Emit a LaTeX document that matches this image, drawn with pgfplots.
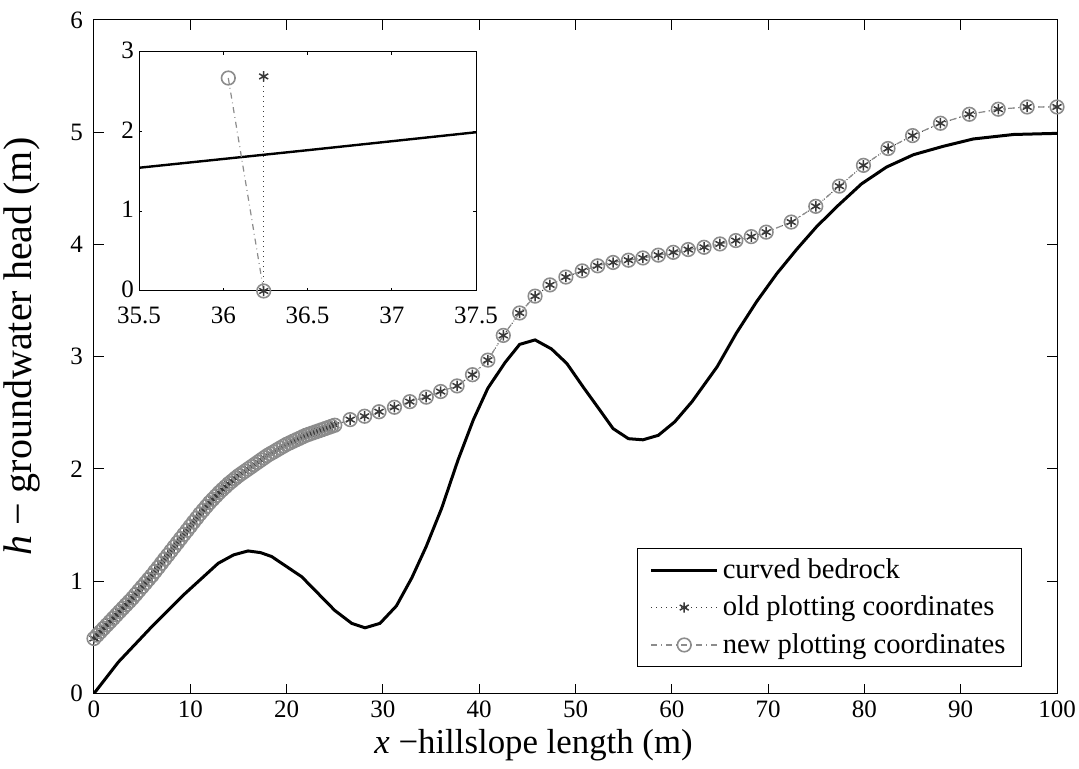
\documentclass[border=0pt]{standalone}
\usepackage{pgfplots}
\pgfplotsset{compat=1.18}
\usepackage{fontspec}
\setmainfont{Liberation Serif}
\definecolor{oldc}{HTML}{383838}
\definecolor{newc}{HTML}{8C8C8C}

\begin{document}
\begin{tikzpicture}
\begin{axis}[
  name=main,
  at={(0,0)}, anchor=south west,
  scale only axis=true,
  width=481.5pt, height=336.75pt,
  xmin=0, xmax=100, ymin=0, ymax=6,
  xtick={0,10,...,100}, ytick={0,1,...,6},
  tick align=inside,
  major tick length=4.8pt,
  every tick/.style={black, line width=0.5pt},
  axis line style={line width=0.5pt},
  /pgf/number format/assume math mode=true,
  tick label style={font=\fontsize{12.5}{15}\selectfont},
  yticklabel style={xshift=-2pt},
  xlabel={\textit{x} −hillslope length (m)},
  ylabel={\textit{h} − groundwater head (m)},
  xlabel style={font=\fontsize{17.4}{21}\selectfont, at={(axis description cs:0.5,0)}, anchor=center, xshift=-21pt, yshift=-25.75pt},
  ylabel style={font=\fontsize{20}{24}\selectfont, at={(axis description cs:-0.0748,0.515)}, anchor=center},
  legend cell align=left,
  legend style={at={(1,0)}, anchor=south east, xshift=-17.5pt, yshift=13pt,
    draw=black, line width=0.5pt, font=\fontsize{14.3}{17}\selectfont,
    row sep=3.3pt, inner xsep=6pt, inner ysep=3.3pt},
  legend image code/.code={\draw[mark repeat=2,mark phase=2] plot coordinates {(0pt,0pt) (16.5pt,0pt) (33pt,0pt)};},
]
% curved bedrock
\addplot[black, line width=1.5pt] coordinates {
(0,0) (2.53,0.28) (6.0,0.595) (9.45,0.89) (12.9,1.16) (14.5,1.235) (16.0,1.27) (17.3,1.255)
(18.45,1.22) (21.57,1.04) (25.0,0.74) (26.76,0.625) (28.14,0.585) (29.7,0.625)
(31.4,0.78) (33.0,1.03) (34.5,1.31) (36.1,1.65) (37.8,2.08) (39.4,2.44) (40.9,2.72)
(42.7,2.95) (44.2,3.11) (45.8,3.15) (47.5,3.07) (49.1,2.94) (50.8,2.73) (52.4,2.54)
(53.9,2.36) (55.5,2.27) (57.0,2.26) (58.6,2.30) (60.3,2.42) (62.1,2.60) (64.7,2.91)
(66.7,3.21) (68.8,3.49) (70.9,3.74) (73.0,3.96) (75.05,4.16) (77.3,4.35) (79.7,4.54)
(82.3,4.69) (85.1,4.80) (88.2,4.875) (91.3,4.94) (95.5,4.98) (100,4.99)
};
\addlegendentry{curved bedrock}
% old plotting coordinates
\addplot[oldc, dotted, line width=0.5pt, mark=asterisk, mark size=2.6pt,
  mark options={solid, draw=oldc, line width=0.75pt}] coordinates {
(0,0.49) (0.333,0.52) (0.667,0.55) (1,0.58) (1.333,0.61) (1.667,0.64)
(2,0.67) (2.333,0.70) (2.667,0.73) (3,0.76) (3.333,0.79) (3.667,0.82)
(4,0.85) (4.333,0.883) (4.667,0.917) (5,0.95) (5.333,0.983) (5.667,1.017)
(6,1.05) (6.333,1.087) (6.667,1.123) (7,1.16) (7.333,1.197) (7.667,1.233)
(8,1.27) (8.333,1.307) (8.667,1.343) (9,1.38) (9.333,1.417) (9.667,1.453)
(10,1.49) (10.333,1.527) (10.667,1.563) (11,1.60) (11.333,1.633) (11.667,1.667)
(12,1.70) (12.333,1.73) (12.667,1.76) (13,1.79) (13.333,1.817) (13.667,1.843)
(14,1.87) (14.333,1.893) (14.667,1.917) (15,1.94) (15.333,1.96) (15.667,1.98)
(16,2.00) (16.333,2.02) (16.667,2.04) (17,2.06) (17.333,2.08) (17.667,2.10)
(18,2.12) (18.333,2.137) (18.667,2.153) (19,2.17) (19.333,2.187) (19.667,2.203)
(20,2.22) (20.333,2.233) (20.667,2.247) (21,2.26) (21.333,2.273) (21.667,2.287)
(22,2.30) (22.333,2.31) (22.667,2.32) (23,2.33) (23.333,2.34) (23.667,2.35)
(24,2.36) (24.333,2.37) (24.667,2.38) (25,2.39)
(26.6,2.44) (28.1,2.47) (29.6,2.51) (31.2,2.55) (32.8,2.60) (34.5,2.64) (36.0,2.69)
(37.7,2.74) (39.3,2.84) (40.9,2.97) (42.5,3.19) (44.2,3.39) (45.8,3.54) (47.35,3.64)
(49.0,3.71) (50.7,3.765) (52.3,3.81) (53.9,3.84) (55.5,3.86) (57.0,3.88) (58.6,3.905)
(60.15,3.93) (61.7,3.955) (63.35,3.975) (65.0,4.005) (66.65,4.035) (68.25,4.07)
(69.8,4.11) (72.4,4.20) (74.95,4.34) (77.4,4.52) (79.9,4.705) (82.45,4.855)
(85.0,4.97) (87.9,5.08) (90.9,5.16) (93.9,5.205) (96.9,5.225) (100,5.225)
};
\addlegendentry{old plotting coordinates\hspace{6pt}}
% new plotting coordinates
\addplot[newc, dashdotted, line width=0.6pt, mark=o, mark size=3.4pt,
  mark options={solid, draw=newc, line width=0.8pt}] coordinates {
(0,0.49) (0.333,0.52) (0.667,0.55) (1,0.58) (1.333,0.61) (1.667,0.64)
(2,0.67) (2.333,0.70) (2.667,0.73) (3,0.76) (3.333,0.79) (3.667,0.82)
(4,0.85) (4.333,0.883) (4.667,0.917) (5,0.95) (5.333,0.983) (5.667,1.017)
(6,1.05) (6.333,1.087) (6.667,1.123) (7,1.16) (7.333,1.197) (7.667,1.233)
(8,1.27) (8.333,1.307) (8.667,1.343) (9,1.38) (9.333,1.417) (9.667,1.453)
(10,1.49) (10.333,1.527) (10.667,1.563) (11,1.60) (11.333,1.633) (11.667,1.667)
(12,1.70) (12.333,1.73) (12.667,1.76) (13,1.79) (13.333,1.817) (13.667,1.843)
(14,1.87) (14.333,1.893) (14.667,1.917) (15,1.94) (15.333,1.96) (15.667,1.98)
(16,2.00) (16.333,2.02) (16.667,2.04) (17,2.06) (17.333,2.08) (17.667,2.10)
(18,2.12) (18.333,2.137) (18.667,2.153) (19,2.17) (19.333,2.187) (19.667,2.203)
(20,2.22) (20.333,2.233) (20.667,2.247) (21,2.26) (21.333,2.273) (21.667,2.287)
(22,2.30) (22.333,2.31) (22.667,2.32) (23,2.33) (23.333,2.34) (23.667,2.35)
(24,2.36) (24.333,2.37) (24.667,2.38) (25,2.39)
(26.6,2.44) (28.1,2.47) (29.6,2.51) (31.2,2.55) (32.8,2.60) (34.5,2.64) (36.0,2.69)
(37.7,2.74) (39.3,2.84) (40.9,2.97) (42.5,3.19) (44.2,3.39) (45.8,3.54) (47.35,3.64)
(49.0,3.71) (50.7,3.765) (52.3,3.81) (53.9,3.84) (55.5,3.86) (57.0,3.88) (58.6,3.905)
(60.15,3.93) (61.7,3.955) (63.35,3.975) (65.0,4.005) (66.65,4.035) (68.25,4.07)
(69.8,4.11) (72.4,4.20) (74.95,4.34) (77.4,4.52) (79.9,4.705) (82.45,4.855)
(85.0,4.97) (87.9,5.08) (90.9,5.16) (93.9,5.205) (96.9,5.225) (100,5.225)
};
\addlegendentry{new plotting coordinates\hspace{6pt}}
\end{axis}

% inset
\begin{axis}[
  at={(22.5pt,201.25pt)}, anchor=south west,
  scale only axis=true,
  width=168.5pt, height=119.65pt,
  xmin=35.5, xmax=37.5, ymin=0, ymax=3,
  xtick={35.5,36,36.5,37,37.5}, ytick={0,1,2,3},
  xticklabels={35.5,36,36.5,37,37.5},
  axis background/.style={fill=white},
  tick align=inside,
  major tick length=1.7pt,
  every tick/.style={black, line width=0.5pt},
  axis line style={line width=0.5pt},
  /pgf/number format/assume math mode=true,
  tick label style={font=\fontsize{12.5}{15}\selectfont},
  xticklabel style={yshift=-4.5pt},
  yticklabel style={xshift=1pt, yshift=0.8pt},
  clip=true,
]
\addplot[black, line width=1.2pt] coordinates {(35.5,1.545) (36.5,1.765) (37.5,1.99)};
\addplot[oldc, dotted, line width=0.5pt, mark=asterisk, mark size=2.6pt,
  mark options={solid, draw=oldc, line width=0.75pt}] coordinates {(36.24,2.69) (36.24,0)};
\addplot[newc, dashdotted, line width=0.6pt, mark=o, mark size=3.4pt,
  mark options={solid, draw=newc, line width=0.8pt}] coordinates {(36.03,2.67) (36.24,0)};
\end{axis}

\pgfresetboundingbox
\path (-47pt,-37.75pt) rectangle (492.5pt,346.75pt);
\end{tikzpicture}
\end{document}
